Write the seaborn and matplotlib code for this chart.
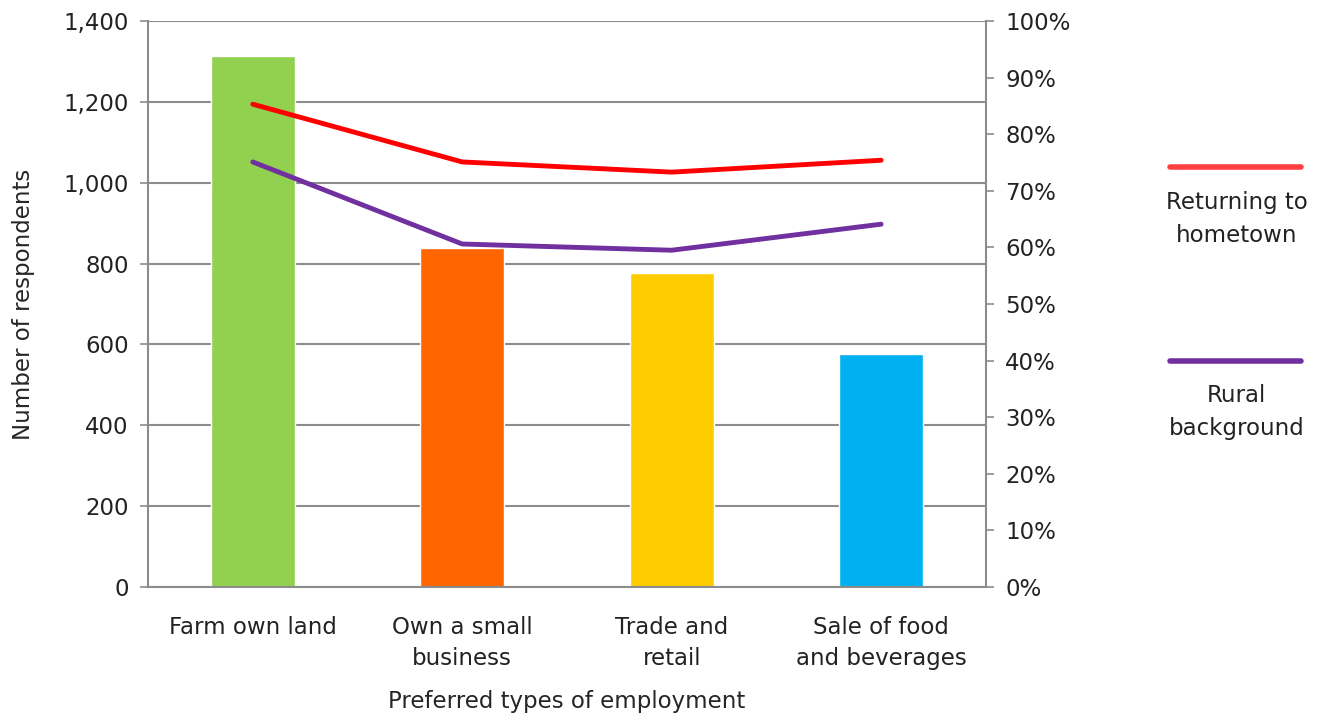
import seaborn as sns
import pandas as pd
import numpy as np
import matplotlib.pyplot as plt
from matplotlib.lines import Line2D
from matplotlib.ticker import FuncFormatter, PercentFormatter

# Datos
categories = ["Farm own land", "Own a small\nbusiness", "Trade and\nretail", "Sale of food\nand beverages"]
respondents = [1313, 838, 776, 576]
returning = [85.3, 75.1, 73.3, 75.4]
rural = [75.1, 60.6, 59.5, 64.1]
bar_colors = ["#92D050", "#FF6600", "#FFCC00", "#00B0F0"]

sns.set_style("white")
plt.rcParams['font.family'] = ['DejaVu Sans']
plt.rcParams['font.size'] = 16.5
plt.rcParams['text.color'] = "#222222"
plt.rcParams['xtick.color'] = "#222222"
plt.rcParams['ytick.color'] = "#222222"

df = pd.DataFrame({"cat": categories, "n": respondents})

fig = plt.figure(figsize=(13.34, 7.27), dpi=100)
ax = fig.add_axes([0.111, 0.1926, 0.628, 0.7785])

sns.barplot(data=df, x="cat", y="n", hue="cat", palette=bar_colors,
            width=0.4, saturation=1, legend=False, ax=ax)
ax.set_ylim(0, 1400)
ax.set_xlim(-0.5, 3.5)
ax.set_yticks(range(0, 1401, 200))
ax.yaxis.set_major_formatter(FuncFormatter(lambda v, p: f"{int(v):,}"))
ax.yaxis.grid(True, color="#8c8c8c", linewidth=1.5)
ax.set_axisbelow(True)

# ticks del eje x entre categorias
ax.set_xticks([-0.5, 0.5, 1.5, 2.5, 3.5])
ax.set_xticklabels([])
ax.set_xticks(range(4), minor=True)
ax.set_xticklabels(categories, minor=True, linespacing=1.45)
ax.tick_params(axis="x", which="major", length=8, color="#8c8c8c", width=1.2, direction="out")
ax.tick_params(axis="x", which="minor", length=0, pad=21)
ax.tick_params(axis="y", length=6, color="#8c8c8c", width=1.2, direction="out", pad=8)
ax.set_xlabel("Preferred types of employment", labelpad=14)
ax.set_ylabel("Number of respondents", labelpad=20)

for s in ["left", "bottom"]:
    ax.spines[s].set_color("#8c8c8c")
    ax.spines[s].set_linewidth(1.5)
for s in ["top", "right"]:
    ax.spines[s].set_visible(False)

ax2 = ax.twinx()
x = np.arange(len(categories))
sns.lineplot(x=x, y=returning, color="#FF0000", linewidth=3.5, ax=ax2)
sns.lineplot(x=x, y=rural, color="#7030A0", linewidth=3.5, ax=ax2)
ax2.set_ylim(0, 100)
ax2.set_yticks(range(0, 101, 10))
ax2.yaxis.set_major_formatter(PercentFormatter(decimals=0))
ax2.tick_params(axis="y", length=6, color="#8c8c8c", width=1.2, direction="out", pad=8)
ax2.set_xlim(-0.5, 3.5)
for s in ["top", "left", "bottom"]:
    ax2.spines[s].set_visible(False)
ax2.spines["right"].set_color("#8c8c8c")
ax2.spines["right"].set_linewidth(1.5)

# leyenda manual (linea encima del texto)
for yline, ytext, col, lab in [(0.770, 0.699, "#FF4040", "Returning to\nhometown"),
                               (0.503, 0.433, "#7030A0", "Rural\nbackground")]:
    fig.add_artist(Line2D([0.877, 0.975], [yline, yline], color=col, linewidth=4,
                          transform=fig.transFigure))
    fig.text(0.927, ytext, lab, ha="center", va="center", fontsize=16.5, linespacing=1.55)

fig.savefig("out.png", dpi=100)
